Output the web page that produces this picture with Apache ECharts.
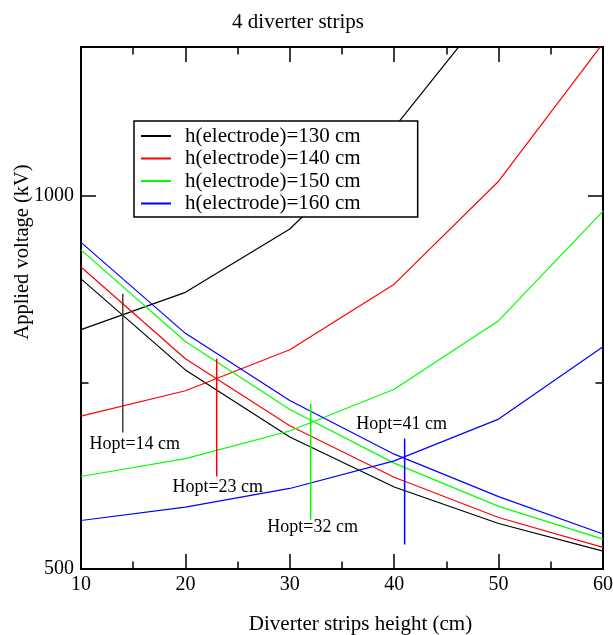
<!DOCTYPE html>
<html>
<head>
<meta charset="utf-8">
<script src="https://cdn.jsdelivr.net/npm/echarts@6/dist/echarts.min.js"></script>
<style>
  html, body { margin: 0; padding: 0; background: #fff; }
  #chart { width: 613px; height: 635px; }
</style>
</head>
<body>
<div id="chart"></div>
<script>
// Strip height (cm) at which each voltage was computed
const stripHeights = [10, 20, 30, 40, 50, 60];

// Falling branch: applied voltage (kV) for each electrode height
const falling130 = [889, 767, 677, 610, 561, 524];
const falling140 = [905, 782, 692, 623, 569, 529];
const falling150 = [928, 805, 714, 642, 584, 540];
const falling160 = [938, 816, 726, 654, 597, 547];

// Rising branch: applied voltage (kV) for each electrode height
const rising130 = [821, 871, 956, 1092, 1267, 1480];
const rising140 = [705, 739, 794, 882, 1020, 1205];
const rising150 = [624, 648, 685, 741, 833, 980];
const rising160 = [565, 583, 608, 645, 701, 798];

// Optimum strip heights (cm) and the voltage span of their marker lines
const hoptValues = [14, 23, 32, 41];
const hoptTop = [869, 782, 722, 675];
const hoptBottom = [683, 624, 566, 533];

const seriesNames = ['h(electrode)=130 cm', 'h(electrode)=140 cm', 'h(electrode)=150 cm', 'h(electrode)=160 cm'];
const colors = ['#000000', '#ff0000', '#00ff00', '#0000ff'];
const fallingSets = [falling130, falling140, falling150, falling160];
const risingSets = [rising130, rising140, rising150, rising160];

const FONT = 'Liberation Serif';

function pairs(ys) {
  return stripHeights.map((x, i) => [x, ys[i]]);
}

const series = [];
for (let k = 0; k < 4; k++) {
  [fallingSets[k], risingSets[k]].forEach(ys => {
    series.push({
      name: seriesNames[k],
      type: 'line',
      data: pairs(ys),
      symbol: 'none',
      showSymbol: false,
      clip: true,
      lineStyle: { color: colors[k], width: 1.2 },
      itemStyle: { color: colors[k] },
      emphasis: { disabled: true },
      animation: false,
      z: 3
    });
  });
}

// Marker lines at the optimum height, with a text label at one end
const labelOffsets = [[12, 11.5], [1, 10.7], [2, 7.4], [-3, -14]];
const labelAtTop = [false, false, false, true];
for (let k = 0; k < 4; k++) {
  const h = hoptValues[k];
  series.push({
    name: 'Hopt ' + h,
    type: 'line',
    data: [[h, hoptTop[k]], [h, hoptBottom[k]]],
    symbol: 'none',
    showSymbol: false,
    lineStyle: { color: k === 0 ? '#444444' : colors[k], width: 1.5 },
    emphasis: { disabled: true },
    animation: false,
    z: 4
  });
  series.push({
    name: 'Hopt label ' + h,
    type: 'scatter',
    data: [[h, labelAtTop[k] ? hoptTop[k] : hoptBottom[k]]],
    symbol: 'circle',
    symbolSize: 1,
    itemStyle: { color: 'transparent', opacity: 1 },
    label: {
      show: true,
      position: 'inside',
      offset: labelOffsets[k],
      formatter: 'Hopt=' + h + ' cm',
      fontFamily: FONT,
      fontSize: 18,
      color: '#000',
      opacity: 1,
      textBorderWidth: 0,
      align: 'center',
      verticalAlign: 'middle'
    },
    emphasis: { disabled: true },
    silent: true,
    animation: false,
    z: 5
  });
}

const tickStyle = { color: '#000', width: 1.5 };
const frameLine = { show: true, onZero: false, lineStyle: { color: '#000', width: 2 } };

const option = {
  animation: false,
  backgroundColor: '#ffffff',
  title: {
    text: '4 diverter strips',
    left: 298,
    top: 12,
    textAlign: 'center',
    padding: 0,
    textStyle: { fontFamily: FONT, fontSize: 21, fontWeight: 'normal', color: '#000', lineHeight: 21 }
  },
  legend: {
    data: seriesNames,
    orient: 'vertical',
    left: 134,
    top: 121,
    padding: [4, 57, 2.5, 7],
    icon: 'rect',
    itemWidth: 30,
    itemHeight: 2,
    itemGap: 0.5,
    borderColor: '#000',
    borderWidth: 1.5,
    backgroundColor: '#fff',
    selectedMode: false,
    textStyle: { fontFamily: FONT, fontSize: 21, color: '#000', lineHeight: 22, padding: [0, 0, 0, 9] }
  },
  grid: { left: 81, right: 10, top: 47, bottom: 66, containLabel: false, outerBoundsMode: 'none' },
  xAxis: [
    {
      type: 'value',
      position: 'bottom',
      min: 10, max: 60, interval: 10,
      axisLine: frameLine,
      axisTick: { show: true, inside: true, length: 15, lineStyle: tickStyle },
      minorTick: { show: true, splitNumber: 2, length: 7.5, lineStyle: tickStyle },
      splitLine: { show: false },
      minorSplitLine: { show: false },
      axisLabel: { fontFamily: FONT, fontSize: 20, color: '#000', margin: 6 },
      name: 'Diverter strips height (cm)',
      nameLocation: 'middle',
      nameGap: 45,
      nameMoveOverlap: false,
      nameTextStyle: { fontFamily: FONT, fontSize: 21, color: '#000', lineHeight: 21, padding: [0, 0, 0, 37] }
    },
    {
      type: 'value',
      position: 'top',
      min: 10, max: 60, interval: 10,
      axisLine: frameLine,
      axisTick: { show: true, inside: true, length: 15, lineStyle: tickStyle },
      minorTick: { show: true, splitNumber: 2, length: 7.5, lineStyle: tickStyle },
      splitLine: { show: false },
      axisLabel: { show: false }
    }
  ],
  yAxis: [
    {
      type: 'value',
      position: 'left',
      min: 500, max: 1200, interval: 500,
      axisLine: frameLine,
      axisTick: { show: true, inside: true, length: 15, lineStyle: tickStyle },
      minorTick: { show: true, splitNumber: 2, length: 7.5, lineStyle: tickStyle },
      splitLine: { show: false },
      minorSplitLine: { show: false },
      axisLabel: {
        fontFamily: FONT, fontSize: 20, color: '#000', margin: 7,
        showMaxLabel: false,
        formatter: v => (v === 1200 ? '' : String(v))
      },
      name: 'Applied voltage (kV)',
      nameLocation: 'middle',
      nameRotate: 90,
      nameGap: 48,
      nameMoveOverlap: false,
      nameTextStyle: { fontFamily: FONT, fontSize: 20.5, color: '#000', lineHeight: 21, padding: [0, 0, 0, 112] }
    },
    {
      type: 'value',
      position: 'right',
      min: 500, max: 1200, interval: 500,
      axisLine: frameLine,
      axisTick: { show: true, inside: true, length: 15, lineStyle: tickStyle },
      minorTick: { show: true, splitNumber: 2, length: 7.5, lineStyle: tickStyle },
      splitLine: { show: false },
      axisLabel: { show: false }
    }
  ],
  series: series
};

const chart = echarts.init(document.getElementById('chart'), null, { renderer: 'canvas' });
chart.setOption(option);
</script>
</body>
</html>
